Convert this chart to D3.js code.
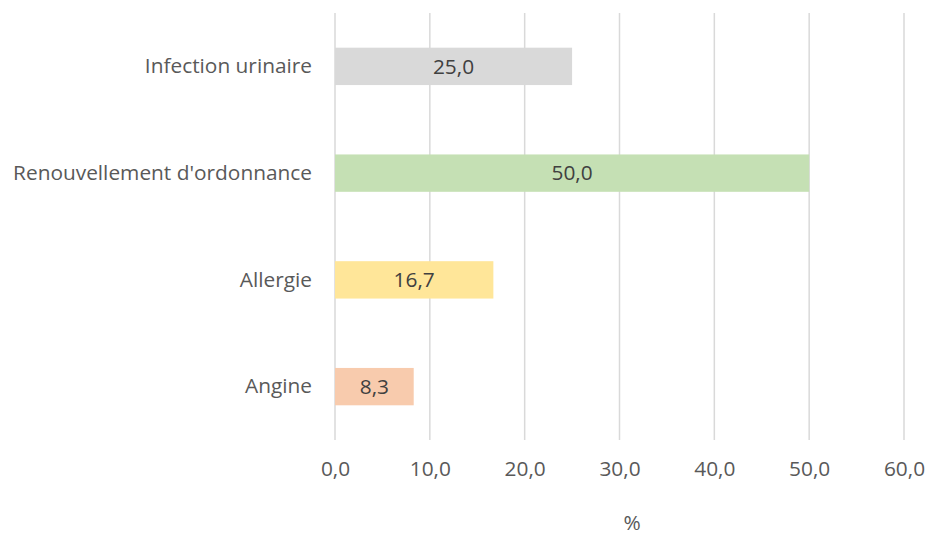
<!DOCTYPE html>
<html>
<head>
<meta charset="utf-8">
<script src="https://cdn.jsdelivr.net/npm/d3@7"></script>
<style>
  body { margin: 0; background: #fff; }
  svg text { font-family: "Open Sans", sans-serif; }
</style>
</head>
<body>
<div id="chart"></div>
<script>
// Données
const categories = ["Infection urinaire", "Renouvellement d'ordonnance", "Allergie", "Angine"];
const values = [25.0, 50.0, 16.7, 8.3];
const colors = ["#d9d9d9", "#c5e0b4", "#ffe699", "#f8cbad"];
const ticks = [0, 10, 20, 30, 40, 50, 60];
const axisTitle = "%";

const W = 928, H = 536;
const margin = {top: 13, left: 335};
const width = 904 - margin.left;
const height = 440 - margin.top;

const fmt = v => d3.format(".1f")(v).replace(".", ",");

const svg = d3.select("#chart")
    .append("svg")
    .attr("width", W)
    .attr("height", H);

// Taille de police : le libellé le plus long doit faire ~299 px
const probe = svg.append("text").style("font-size", "20px").text(categories[1]);
const fs = Math.min(20 * 299 / probe.node().getComputedTextLength(), 22);
probe.remove();
const fsPx = fs.toFixed(2) + "px";

const g = svg.append("g")
    .attr("transform", `translate(${margin.left},${margin.top})`);

const x = d3.scaleLinear().domain([0, 60]).range([0, width]);
const y = d3.scaleBand().domain(categories).range([0, height]).paddingInner(0.65).paddingOuter(0.325);

// Lignes de grille
g.selectAll(".grid")
    .data(ticks)
    .join("line")
    .attr("class", "grid")
    .attr("x1", d => x(d)).attr("x2", d => x(d))
    .attr("y1", 0).attr("y2", height)
    .attr("stroke", "#d9d9d9")
    .attr("stroke-width", 1.5);

// Barres
g.selectAll(".bar")
    .data(values)
    .join("rect")
    .attr("class", "bar")
    .attr("x", x(0))
    .attr("y", (d, i) => y(categories[i]))
    .attr("width", d => x(d) - x(0))
    .attr("height", y.bandwidth())
    .attr("fill", (d, i) => colors[i]);

// Étiquettes de valeurs
g.selectAll(".bar-label")
    .data(values)
    .join("text")
    .attr("class", "bar-label")
    .attr("x", d => (x(0) + x(d)) / 2)
    .attr("y", (d, i) => y(categories[i]) + y.bandwidth() / 2)
    .attr("dy", "0.35em")
    .attr("text-anchor", "middle")
    .attr("fill", "#404040")
    .style("font-size", fsPx)
    .text(d => fmt(d));

// Axe Y (catégories)
const yAxis = g.append("g")
    .call(d3.axisLeft(y).tickSize(0).tickPadding(23));
yAxis.select(".domain").remove();
yAxis.selectAll("text")
    .attr("fill", "#595959")
    .style("font-size", fsPx)
    .style("font-family", "'Open Sans', sans-serif");

// Axe X
const xAxis = g.append("g")
    .attr("transform", `translate(0,${height})`)
    .call(d3.axisBottom(x).tickValues(ticks).tickSize(0).tickPadding(21).tickFormat(fmt));
xAxis.select(".domain").remove();
xAxis.selectAll("text")
    .attr("fill", "#595959")
    .style("font-size", fsPx)
    .style("font-family", "'Open Sans', sans-serif");

// Titre de l'axe X
svg.append("text")
    .attr("x", 632)
    .attr("y", 523)
    .attr("dy", "0.35em")
    .attr("text-anchor", "middle")
    .attr("fill", "#595959")
    .style("font-size", fsPx)
    .text(axisTitle);
</script>
</body>
</html>
